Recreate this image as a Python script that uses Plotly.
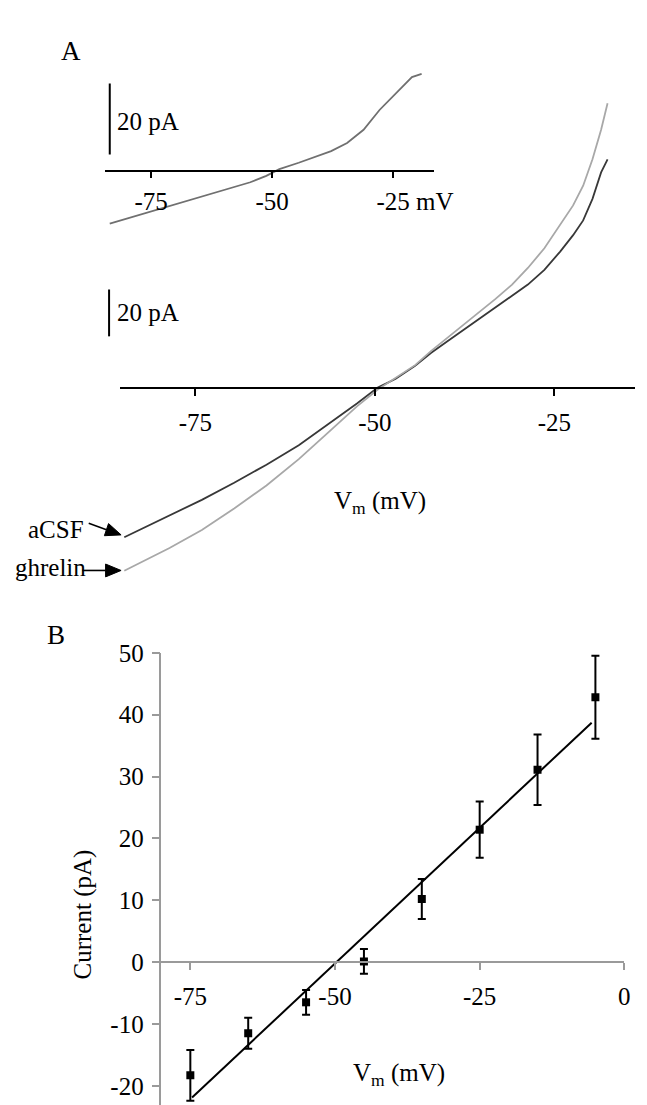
import math
import plotly.graph_objects as go

W, H = 647, 1105
FONT = "Liberation Serif"

# ---------------- Panel A: main I-V ramps ----------------
main_mv = [-84.9, -78.6, -74.1, -69.6, -65.1, -60.6, -56.6, -52.5, -49.6, -47.1,
           -44.4, -42.2, -39.9, -37.7, -35.4, -33.2, -30.9, -28.7, -26.4, -24.2,
           -22.4, -21.0, -19.7, -18.5, -17.6]
acsf_pa = [-63.9, -54.6, -47.9, -40.6, -32.9, -24.6, -15.8, -6.8, 0.0, 3.8,
           9.3, 14.8, 19.8, 24.6, 29.4, 34.2, 39.1, 44.0, 50.3, 58.1,
           65.1, 71.4, 80.6, 91.9, 97.5]
ghrelin_pa = [-78.2, -68.5, -60.8, -51.6, -41.8, -30.5, -19.4, -8.0, -0.8, 4.2,
              9.6, 15.6, 21.3, 26.8, 32.3, 37.9, 44.0, 51.1, 59.5, 69.3,
              77.8, 86.2, 97.5, 110.1, 121.4]

# ---------------- Panel A inset: difference current ----------------
inset_mv = [-83.55, -75.2, -67.9, -61.2, -54.5, -51.2, -48.5, -44.5, -37.8, -34.5,
            -31.1, -27.8, -24.5, -21.1, -19.1]
inset_pa = [-14.9, -11.6, -8.6, -6.0, -3.2, -1.4, 0.5, 2.3, 5.6, 7.9,
            11.6, 17.2, 21.9, 26.5, 27.4]

# ---------------- Panel B: mean I-V ----------------
b_mv = [-75, -65, -55, -45, -35, -25, -15, -5]
b_pa = [-18.3, -11.5, -6.5, 0.1, 10.2, 21.4, 31.1, 42.8]
b_err = [4.1, 2.5, 2.0, 2.0, 3.25, 4.55, 5.7, 6.7]
fit_mv = [-74.7, -5.65]
fit_pa = [-21.9, 38.7]

a_ticks = [-75, -50, -25]
a_ticktext = ["-75", "-50", "-25"]
inset_ticktext = ["-75", "-50", "&nbsp;&nbsp;&nbsp;&nbsp;&nbsp;&nbsp;&nbsp;-25 mV"]
b_xticks = [-75, -50, -25, 0]
b_xticktext = ["-75", "-50", "-25", "0"]
b_yticks = [-20, -10, 0, 10, 20, 30, 40, 50]
b_yticktext = ["-20", "-10", "0", "10", "20", "30", "40", "50"]


def fx(px):
    return px / W


def fy(py):
    return 1 - py / H


fig = go.Figure()

# inset trace
fig.add_trace(go.Scatter(x=inset_mv, y=inset_pa, mode="lines", line=dict(color="#707070", width=1.8),
                         xaxis="x", yaxis="y", showlegend=False))
# main traces
fig.add_trace(go.Scatter(x=main_mv, y=acsf_pa, mode="lines", line=dict(color="#383838", width=1.8),
                         xaxis="x2", yaxis="y2", showlegend=False, name="aCSF"))
fig.add_trace(go.Scatter(x=main_mv, y=ghrelin_pa, mode="lines", line=dict(color="#a8a8a8", width=1.8),
                         xaxis="x2", yaxis="y2", showlegend=False, name="ghrelin"))
# panel B
fig.add_trace(go.Scatter(x=fit_mv, y=fit_pa, mode="lines", line=dict(color="black", width=2),
                         xaxis="x3", yaxis="y3", showlegend=False))
fig.add_trace(go.Scatter(x=b_mv, y=b_pa, mode="markers",
                         marker=dict(symbol="square", size=8, color="black"),
                         error_y=dict(type="data", array=b_err, color="black", thickness=2, width=4),
                         xaxis="x3", yaxis="y3", showlegend=False))

FS = 25
tickfont = dict(family=FONT, size=FS, color="black")

inset_y = (151.7 - 215) / 3.585, (151.7 - 40) / 3.585
main_y = (371 - 600) / 2.37, (371 - 60) / 2.37
b_ybot = (952.3 - 1105) / 6.26

fig.update_layout(
    width=W, height=H,
    margin=dict(l=0, r=0, t=0, b=0),
    paper_bgcolor="white", plot_bgcolor="rgba(0,0,0,0)",
    font=dict(family=FONT, size=FS, color="black"),
    xaxis=dict(domain=[fx(100), fx(439.3)], range=[-84.55, -16.6], anchor="free", position=fy(151.7),
               showline=True, linecolor="black", linewidth=2, showgrid=False, zeroline=False,
               ticks="outside", ticklen=6, tickwidth=2, tickcolor="black",
               tickvals=a_ticks, ticktext=inset_ticktext, tickfont=tickfont, ticklabelstandoff=2),
    yaxis=dict(domain=[fy(215), fy(40)], range=list(inset_y), visible=False),
    xaxis2=dict(domain=[fx(116), 1.0], range=[-85.44, -13.78], anchor="free", position=fy(371),
                showline=True, linecolor="black", linewidth=2, showgrid=False, zeroline=False,
                ticks="outside", ticklen=7, tickwidth=2, tickcolor="black",
                tickvals=a_ticks, ticktext=a_ticktext, tickfont=tickfont, ticklabelstandoff=5),
    yaxis2=dict(domain=[fy(600), fy(60)], range=list(main_y), visible=False),
    xaxis3=dict(domain=[fx(158.3), fx(636)], range=[-80, 0], anchor="free", position=fy(952.3),
                showline=True, linecolor="#9a9a9a", linewidth=1.5, showgrid=False, zeroline=False,
                ticks="outside", ticklen=7, tickwidth=1.5, tickcolor="#9a9a9a",
                tickvals=b_xticks, ticktext=b_xticktext, tickfont=tickfont, ticklabelstandoff=5),
    yaxis3=dict(domain=[0, fy(639.3)], range=[b_ybot, 50], anchor="x3",
                showline=True, linecolor="#9a9a9a", linewidth=1.5, showgrid=False, zeroline=False,
                ticks="outside", ticklen=8, tickwidth=1.5, tickcolor="#9a9a9a",
                tickvals=b_yticks, ticktext=b_yticktext, tickfont=tickfont, ticklabelstandoff=3),
)

# Scale bars (20 pA each), in the data units of their panel
fig.add_shape(type="line", xref="paper", yref="y", x0=fx(105), x1=fx(105), y0=4.66, y1=24.66,
              line=dict(color="black", width=2))
fig.add_shape(type="line", xref="paper", yref="y2", x0=fx(104.3), x1=fx(104.3), y0=21.9, y1=41.9,
              line=dict(color="black", width=2))


def label(text, px, py, size=FS, xanchor="center", yanchor="middle", angle=0):
    fig.add_annotation(text=text, x=fx(px), y=fy(py), xref="paper", yref="paper",
                       xanchor=xanchor, yanchor=yanchor, showarrow=False, textangle=angle,
                       font=dict(family=FONT, size=size, color="black"))


label("A", 65, 30, size=27)
label("B", 50, 621, size=27)
label("20 pA", 110, 101.7, xanchor="left")
label("20 pA", 110, 295, xanchor="left")
label("V<sub>m</sub> (mV)", 383.5, 487)
label("aCSF", 50, 515)
label("ghrelin", 44, 553)
label("Current (pA)", 77.5, 904, angle=-90)
label("V<sub>m</sub> (mV)", 403, 1066)


# arrows (shaft + filled head) from the labels toward the trace starts
def arrow(tail, head, hl=16.0, hw=6.5):
    dx, dy = head[0] - tail[0], head[1] - tail[1]
    n = math.hypot(dx, dy)
    ux, uy = dx / n, dy / n
    bx, by = head[0] - hl * ux, head[1] - hl * uy
    px, py = -uy, ux
    fig.add_shape(type="line", xref="paper", yref="paper",
                  x0=fx(tail[0]), y0=fy(tail[1]), x1=fx(bx), y1=fy(by),
                  line=dict(color="black", width=1.6))
    c1 = (bx + hw * px, by + hw * py)
    c2 = (bx - hw * px, by - hw * py)
    path = "M {} {} L {} {} L {} {} Z".format(fx(head[0]), fy(head[1]), fx(c1[0]), fy(c1[1]),
                                              fx(c2[0]), fy(c2[1]))
    fig.add_shape(type="path", xref="paper", yref="paper", path=path,
                  fillcolor="black", line=dict(color="black", width=1))


arrow((83.3, 508.3), (116.7, 520))
arrow((76.7, 556), (116.7, 556))

fig.write_html("out.html")
